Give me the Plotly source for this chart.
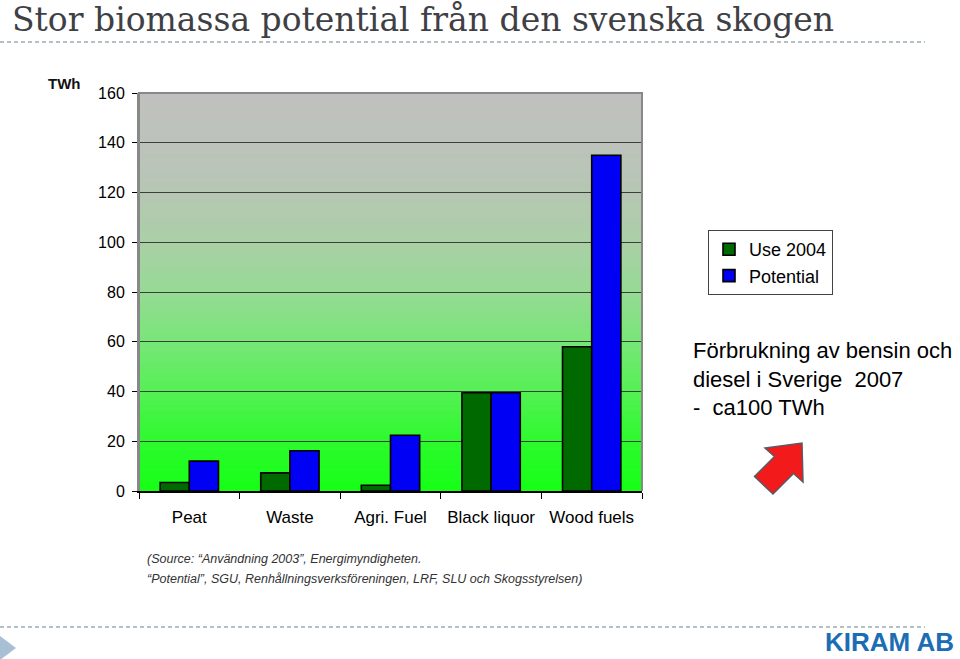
import plotly.graph_objects as go

# ---- data ----
categories = ["Peat", "Waste", "Agri. Fuel", "Black liquor", "Wood fuels"]
use_2004 = [3.4, 7.3, 2.3, 39.5, 58]
potential = [12, 16.2, 22.4, 39.5, 135]
y_ticks = [0, 20, 40, 60, 80, 100, 120, 140, 160]

W, H = 960, 659
L, R, T, B = 139, 642, 93, 491  # plot area in pixels


def px(x):
    return (x - L) / (R - L)


def py(y):
    return (B - y) / (B - T)


fig = go.Figure()
fig.add_trace(go.Bar(name="Use 2004", x=categories, y=use_2004,
                     marker=dict(color="#006a00", line=dict(color="black", width=1.6))))
fig.add_trace(go.Bar(name="Potential", x=categories, y=potential,
                     marker=dict(color="#0000f4", line=dict(color="black", width=1.6))))

shapes = []
# background gradient (gray top -> bright green bottom)
stops = [(0.0, (22, 255, 22)), (0.125, (45, 250, 45)), (0.25, (85, 240, 85)),
         (0.375, (120, 230, 120)), (0.5, (150, 218, 148)), (0.625, (170, 207, 166)),
         (0.75, (182, 199, 179)), (0.875, (189, 194, 187)), (1.0, (192, 193, 190))]


def col(t):
    for (a, ca), (b, cb) in zip(stops[:-1], stops[1:]):
        if a <= t <= b:
            f = (t - a) / (b - a)
            c = [round(ca[i] + (cb[i] - ca[i]) * f) for i in range(3)]
            return "rgb(%d,%d,%d)" % tuple(c)
    return "rgb(192,193,190)"


N = 80
for i in range(N):
    t0, t1 = i / N, (i + 1) / N
    shapes.append(dict(type="rect", xref="paper", yref="paper", x0=0, x1=1, y0=t0, y1=t1 + 0.002,
                       fillcolor=col((t0 + t1) / 2), line=dict(width=0), layer="below"))

# gray frame: left, top, right
shapes.append(dict(type="path", xref="paper", yref="paper", path="M 0 0 L 0 1 L 1 1 L 1 0",
                   line=dict(color="#888888", width=2), layer="above"))

# dashed separators
for yy in (42, 627):
    shapes.append(dict(type="line", xref="paper", yref="paper", x0=px(0), x1=px(925), y0=py(yy), y1=py(yy),
                       line=dict(color="#b4c0c8", width=2, dash="4px,3px")))

# bottom-left triangle
shapes.append(dict(type="path", xref="paper", yref="paper",
                   path="M %f %f L %f %f L %f %f Z" % (px(0), py(636), px(16), py(648), px(0), py(660)),
                   fillcolor="#a9bfd6", line=dict(width=0)))

# red block arrow
pts = [(802, 443), (803, 482), (793.5, 473.5), (773, 494), (754.5, 476.5), (774.5, 456.5), (765, 448)]
path = "M " + " L ".join("%f %f" % (px(a), py(b)) for a, b in pts) + " Z"
shapes.append(dict(type="path", xref="paper", yref="paper", path=path,
                   fillcolor="#f21a1a", line=dict(color="#5a5a66", width=1.5)))

font = "Arial, Liberation Sans, sans-serif"
P = dict(xref="paper", yref="paper", showarrow=False)
ann = []
ann.append(dict(text="Stor biomassa potential från den svenska skogen", x=px(10), y=py(20),
                xanchor="left", yanchor="middle",
                font=dict(family="DejaVu Serif, Liberation Serif, serif", size=33, color="#3f3f46"), **P))
ann.append(dict(text="<b>TWh</b>", x=px(64), y=py(83), xanchor="center", yanchor="middle",
                font=dict(family=font, size=15, color="#111"), **P))
ann.append(dict(text="<i>(Source: \u201cAnvändning 2003\u201d, Energimyndigheten.</i>", x=px(145), y=py(559),
                xanchor="left", yanchor="middle",
                font=dict(family=font, size=12.5, color="#333"), **P))
ann.append(dict(text="<i>\u201cPotential\u201d, SGU, Renhållningsverksföreningen, LRF, SLU och Skogsstyrelsen)</i>",
                x=px(145), y=py(579), xanchor="left", yanchor="middle",
                font=dict(family=font, size=12.5, color="#333"), **P))
ann.append(dict(text="Förbrukning av bensin och<br>diesel i Sverige  2007<br>-  ca100 TWh",
                x=px(691), y=py(379), xanchor="left", yanchor="middle", align="left",
                font=dict(family=font, size=22, color="#000"), **P))
ann.append(dict(text="<b>KIRAM AB</b>", x=px(956), y=py(642), xanchor="right", yanchor="middle",
                font=dict(family="Liberation Sans Narrow, Arial Narrow, Liberation Sans, sans-serif",
                          size=26, color="#1b6db4"), **P))

fig.update_layout(
    width=W, height=H,
    margin=dict(l=L, r=W - R, t=T, b=H - B, pad=0),
    paper_bgcolor="white", plot_bgcolor="rgba(0,0,0,0)",
    barmode="group", bargap=0.42, bargroupgap=0,
    shapes=shapes, annotations=ann,
    font=dict(family=font, color="#000"),
    legend=dict(x=px(708), y=py(230), xanchor="left", yanchor="top",
                bordercolor="#444", borderwidth=1, bgcolor="white",
                font=dict(family=font, size=18, color="#000"),
                itemwidth=30, tracegroupgap=4),
    xaxis=dict(type="category", tickson="boundaries", ticks="outside", ticklen=6, tickcolor="black",
               tickwidth=1.2, showline=True, linecolor="black", linewidth=1.6, showgrid=False,
               tickfont=dict(family=font, size=17, color="#000"), ticklabelstandoff=10),
    yaxis=dict(range=[0, 160], tickvals=y_ticks, ticks="outside", ticklen=5, tickcolor="black",
               showline=True, linecolor="#888888", linewidth=2, showgrid=True,
               gridcolor="#3a3f3a", gridwidth=1.4, zeroline=False,
               tickfont=dict(family=font, size=16, color="#000"), ticklabelstandoff=4),
)

fig.write_html("out.html")
